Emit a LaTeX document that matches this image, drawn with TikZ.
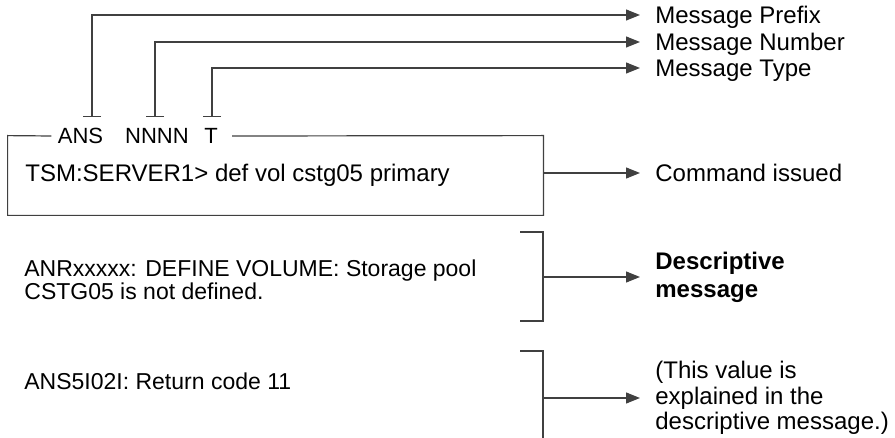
\documentclass[tikz,border=0pt]{standalone}
\usepackage{fontspec}
\setmainfont{Liberation Sans}
\usetikzlibrary{arrows.meta,positioning}
\tikzset{
  msgline/.style={draw=black!75,line width=0.6pt},
  msgflow/.style={msgline,-{Triangle[length=7pt,width=5.5pt]},shorten >=7.5pt},
  msgtag/.style={msgline,{Bar[width=9pt]}-{Triangle[length=7pt,width=5.5pt]},shorten >=7.5pt},
  msghead/.style={inner xsep=3pt,inner ysep=1pt,font=\fontsize{11}{13}\selectfont,text height=7.9pt,text depth=0pt},
  msglabel/.style={anchor=west,inner sep=0pt,font=\fontsize{12}{14}\selectfont,text height=8.6pt,text depth=0pt},
  msgtext/.style={anchor=west,inner sep=0pt,align=left,font=\fontsize{11.5}{10.5}\selectfont},
  msgnote/.style={anchor=west,inner sep=0pt,align=left,font=\fontsize{12}{12.75}\selectfont},
}
\begin{document}
\begin{tikzpicture}[x=0.5pt,y=-0.5pt]
\useasboundingbox (0,0) rectangle (895,438);
% message id and its parts
\node[msghead] (pre) at (80.5,136) {ANS};
\node[msghead] (num) at (157,136) {NNNN};
\node[msghead] (typ) at (211,136) {T};
\node[msglabel] (lpre) at (655,15) {Message Prefix};
\node[msglabel] (lnum) at (655,42) {Message Number};
\node[msglabel] (ltyp) at (655,68) {Message Type};
\draw[msgtag] ([xshift=5.75pt,yshift=4.3pt]pre.north) |- (lpre.west);
\draw[msgtag] ([xshift=-1pt,yshift=4.3pt]num.north) |- (lnum.west);
\draw[msgtag] ([xshift=0.5pt,yshift=4.3pt]typ.north) |- (ltyp.west);
% command box
\node[minimum width=267.5pt,minimum height=39.5pt,inner sep=0pt] (box) at (275.5,175.5) {};
\draw[msgline] (pre.west) -- (box.north west) -- (box.south west) -- (box.south east) -- (box.north east) -- ([xshift=4pt]typ.east);
\node[msglabel] (cmd) at (25,173) {TSM:SERVER1> def vol cstg05 primary};
\node[msglabel] (lcmd) at (655,173) {Command issued};
\draw[msgflow] (box.east |- lcmd.west) -- (lcmd.west);
% descriptive message
\node[msgtext] (desc) at (24,280) {ANRxxxxx: DEFINE VOLUME: Storage pool\\CSTG05 is not defined.};
\coordinate (d1top) at (543,232);
\coordinate (d1bot) at (543,321);
\draw[msgline] ([xshift=-11.5pt]d1top) -- (d1top) -- (d1bot) -- ([xshift=-11.5pt]d1bot);
\node[msgnote,font=\bfseries\fontsize{12}{14}\selectfont] (ldesc) at (655,277) {Descriptive\\message};
\draw[msgflow] (d1top |- ldesc.west) -- (ldesc.west);
% return code
\node[msgtext,text height=8.2pt,text depth=0pt] (rc) at (24,381) {ANS5I02I: Return code 11};
\coordinate (d2top) at (543,351);
\coordinate (d2bot) at (543,438);
\draw[msgline] ([xshift=-11.5pt]d2top) -- (d2top) -- (d2bot);
\node[msgnote] (lrc) at (655,398) {(This value is\\explained in the\\descriptive message.)};
\draw[msgflow] (d2top |- lrc.west) -- (lrc.west);
\end{tikzpicture}
\end{document}
